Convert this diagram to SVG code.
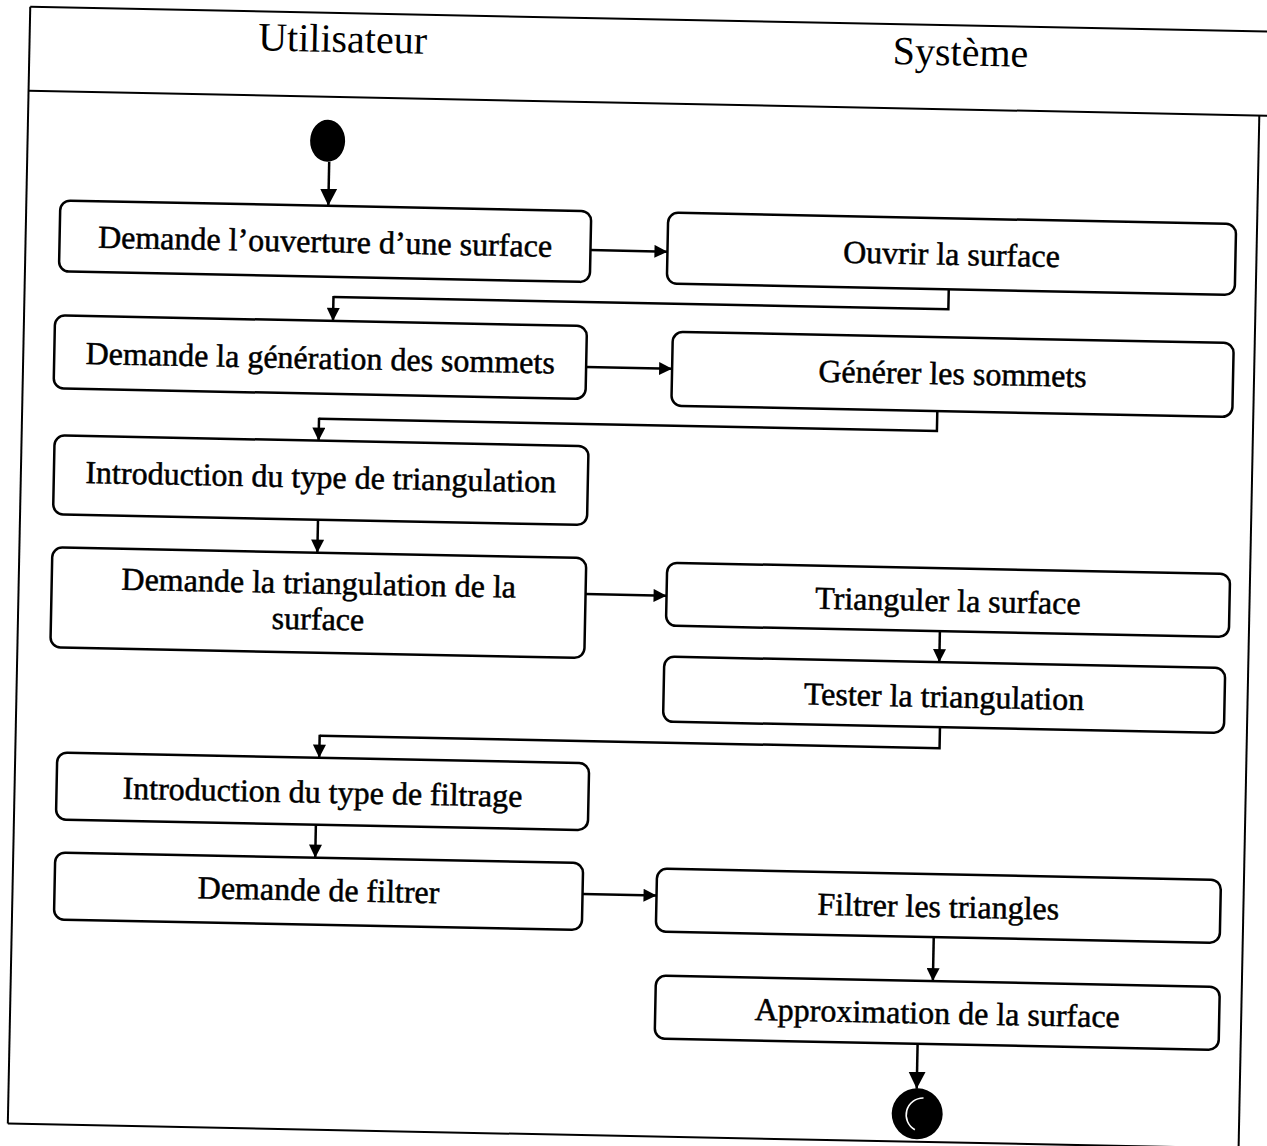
<svg xmlns="http://www.w3.org/2000/svg" width="1267" height="1146" viewBox="0 0 1267 1146">
  <style>
    .frame { fill: none; stroke: #000; stroke-width: 2; }
    .box { fill: #fff; stroke: #000; stroke-width: 2.5; }
    .lbl { font-family: "Liberation Serif", "Times New Roman", serif; font-size: 32px; fill: #000; stroke: #000; stroke-width: 0.5; text-anchor: middle; }
    .head { font-family: "Liberation Serif", "Times New Roman", serif; font-size: 40px; fill: #000; text-anchor: middle; }
    .flow { fill: none; stroke: #000; stroke-width: 2.5; marker-end: url(#arrow); }
    .flow-big { fill: none; stroke: #000; stroke-width: 2.5; marker-end: url(#arrow-big); }
    .link { fill: none; stroke: #000; stroke-width: 2.5; }
  </style>
  <defs>
    <marker id="arrow" viewBox="0 0 10 10" refX="10" refY="5" markerWidth="14" markerHeight="13" markerUnits="userSpaceOnUse" orient="auto">
      <path d="M0,0 L10,5 L0,10 Z" fill="#000"/>
    </marker>
    <marker id="arrow-big" viewBox="0 0 10 10" refX="10" refY="5" markerWidth="17" markerHeight="18" markerUnits="userSpaceOnUse" orient="auto">
      <path d="M0,0 L10,5 L0,10 Z" fill="#000"/>
    </marker>
  </defs>
  <rect width="1267" height="1146" fill="#fff"/>

  <g transform="rotate(1.15 633 573)">
    <!-- swimlane frame -->
    <g id="swimlanes">
      <line class="frame" x1="19" y1="19" x2="1300" y2="19"/>
      <line class="frame" x1="19" y1="103" x2="1300" y2="103"/>
      <line class="frame" x1="19" y1="19" x2="19" y2="1136" stroke-width="1.5"/>
      <line class="frame" x1="1250" y1="103" x2="1250" y2="1136" stroke-width="1.5"/>
      <line class="frame" x1="19" y1="1136" x2="1250" y2="1136"/>
      <text class="head" x="332" y="58">Utilisateur</text>
      <text class="head" x="950" y="59">Système</text>
    </g>

    <!-- connectors -->
    <g id="connectors">
      <path class="flow-big" d="M321,168 L321,212"/>
      <path class="flow" d="M584,251 L661,251"/>
      <path class="link" d="M943,283 L943,303 L328,303"/>
      <path class="flow" d="M328,302 L328,327"/>
      <path class="flow" d="M582,368 L668,368"/>
      <path class="link" d="M934,405 L934,425 L316,425"/>
      <path class="flow" d="M316,424 L316,447"/>
      <path class="flow" d="M317,526 L317,559"/>
      <path class="flow" d="M586,595 L667,595"/>
      <path class="flow" d="M941,625 L941,656"/>
      <path class="link" d="M943,721 L943,742 L323,742"/>
      <path class="flow" d="M323,741 L323,764"/>
      <path class="flow" d="M321,831 L321,864"/>
      <path class="flow" d="M589,895 L663,895"/>
      <path class="flow" d="M941,931 L941,975"/>
      <path class="flow-big" d="M927,1038 L927,1083"/>
    </g>

    <g id="start">
      <ellipse cx="319" cy="147" rx="17.5" ry="21" fill="#000"/>
    </g>

    <g id="n1">
      <rect class="box" x="53" y="212" width="531" height="71" rx="10"/>
      <text class="lbl" x="318.5" y="258.5">Demande l’ouverture d’une surface</text>
    </g>
    <g id="n2">
      <rect class="box" x="661" y="212" width="568" height="71" rx="10"/>
      <text class="lbl" x="945" y="258.5">Ouvrir la surface</text>
    </g>
    <g id="n3">
      <rect class="box" x="50" y="327" width="532" height="73" rx="10"/>
      <text class="lbl" x="316" y="375">Demande la génération des sommets</text>
    </g>
    <g id="n4">
      <rect class="box" x="668" y="331" width="561" height="74" rx="10"/>
      <text class="lbl" x="948.5" y="378">Générer les sommets</text>
    </g>
    <g id="n5">
      <rect class="box" x="52" y="447" width="534" height="79" rx="10"/>
      <text class="lbl" x="319" y="494">Introduction du type de triangulation</text>
    </g>
    <g id="n6">
      <rect class="box" x="52" y="559" width="534" height="100" rx="10"/>
      <text class="lbl" x="319" y="600">Demande la triangulation de la</text>
      <text class="lbl" x="319" y="636">surface</text>
    </g>
    <g id="n7">
      <rect class="box" x="667" y="562" width="563" height="63" rx="10"/>
      <text class="lbl" x="948.5" y="605">Trianguler la surface</text>
    </g>
    <g id="n8">
      <rect class="box" x="666" y="656" width="561" height="65" rx="10"/>
      <text class="lbl" x="946.5" y="701">Tester la triangulation</text>
    </g>
    <g id="n9">
      <rect class="box" x="61" y="764" width="532" height="67" rx="10"/>
      <text class="lbl" x="327" y="809">Introduction du type de filtrage</text>
    </g>
    <g id="n10">
      <rect class="box" x="61" y="864" width="528" height="67" rx="10"/>
      <text class="lbl" x="325" y="907">Demande de filtrer</text>
    </g>
    <g id="n11">
      <rect class="box" x="663" y="868" width="564" height="63" rx="10"/>
      <text class="lbl" x="945" y="911">Filtrer les triangles</text>
    </g>
    <g id="n12">
      <rect class="box" x="664" y="975" width="564" height="63" rx="10"/>
      <text class="lbl" x="946" y="1017.5">Approximation de la surface</text>
    </g>

    <g id="end">
      <circle cx="928" cy="1108" r="25.5" fill="#000"/>
      <path d="M934,1092 A17,17 0 0,0 926,1124" fill="none" stroke="#fff" stroke-width="1.6"/>
    </g>
  </g>
</svg>
